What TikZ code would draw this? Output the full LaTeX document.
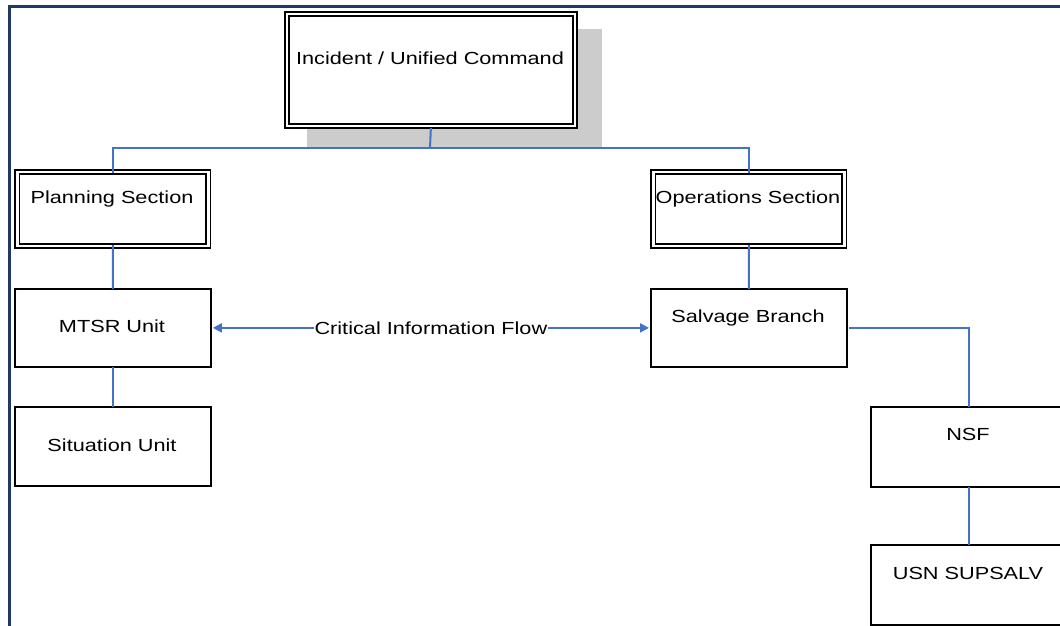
\documentclass[tikz,border=0pt]{standalone}
\usepackage{fontspec}
\newfontfamily\labfont[FakeStretch=1.24]{Liberation Sans}
\usetikzlibrary{arrows.meta}
\definecolor{frameblue}{HTML}{1F3864}
\definecolor{linkblue}{HTML}{4472C4}
\definecolor{shadowgray}{HTML}{CCCCCC}
\begin{document}
\begin{tikzpicture}[x=1pt,y=-1pt,
  box/.style={draw=black,line width=1.8pt,fill=white,inner sep=0pt,anchor=north west},
  dbox/.style={draw=black,line width=1.7pt,double=white,double distance=2.4pt,inner sep=0pt,anchor=north west},
  lab/.style={font=\labfont\fontsize{17.5}{20}\selectfont,inner sep=0pt,anchor=base},
  link/.style={draw=linkblue,line width=2pt},
  tip/.tip={Triangle[length=9pt,width=9pt]}]
\useasboundingbox (0,0) rectangle (1060,626);
\fill[white] (0,0) rectangle (1060,626);
\begin{scope}
  \clip (0,0) rectangle (1060,626);
  \draw[frameblue,line width=2.4pt] (9.5,6.5) rectangle (1080,650);
\end{scope}
% shadow
\fill[shadowgray] (307,29) rectangle (602,148);
% boxes
\node[dbox,fill=white,minimum width=288pt,minimum height=112pt] (top) at (286,13) {};
\node[dbox,fill=white,minimum width=191pt,minimum height=74pt] (plan) at (16.5,171) {};
\node[dbox,fill=white,minimum width=191pt,minimum height=74pt] (ops) at (652.5,171) {};
\node[box,minimum width=196pt,minimum height=78pt] (mtsr) at (14,288) {};
\node[box,minimum width=196pt,minimum height=78pt] (salv) at (650,288) {};
\node[box,minimum width=196pt,minimum height=79pt] (sit) at (14,406) {};
\node[box,minimum width=196pt,minimum height=80pt] (nsf) at (870,406) {};
\node[box,minimum width=196pt,minimum height=80pt] (usn) at (870,544) {};
% labels
\node[lab] (topl) at (430,64) {Incident / Unified Command};
\node[lab] (planl) at (112,203) {Planning Section};
\node[lab] (opsl) at (748,203) {Operations Section};
\node[lab] (mtsrl) at (112,332) {MTSR Unit};
\node[lab] (salvl) at (748,322) {Salvage Branch};
\node[lab] (sitl) at (112,451) {Situation Unit};
\node[lab] (nsfl) at (968,440) {NSF};
\node[lab] (usnl) at (968,579) {USN SUPSALV};
% connectors
\coordinate (bus) at (430,148);
\draw[link] ([yshift=-1.5pt]top.south) -- (bus);
\draw[link] ([yshift=-1.5pt]plan.north) -- (plan.north |- bus) -- (ops.north |- bus) -- ([yshift=-1.5pt]ops.north);
\draw[link] ([yshift=1.5pt]plan.south) -- ([yshift=-1pt]mtsr.north);
\draw[link] ([yshift=1pt]mtsr.south) -- ([yshift=-1pt]sit.north);
\draw[link] ([yshift=1.5pt]ops.south) -- ([yshift=-1pt]salv.north);
\draw[link] ([xshift=1pt]salv.east) -| ([yshift=-1pt]nsf.north);
\draw[link] ([yshift=1pt]nsf.south) -- ([yshift=-1pt]usn.north);
\draw[link,tip-tip] ([xshift=1pt]mtsr.east) -- node[fill=white,inner sep=0.5pt,font=\labfont\fontsize{17.5}{20}\selectfont] (flow) {Critical Information Flow} ([xshift=-1pt]salv.west);
\end{tikzpicture}
\end{document}
